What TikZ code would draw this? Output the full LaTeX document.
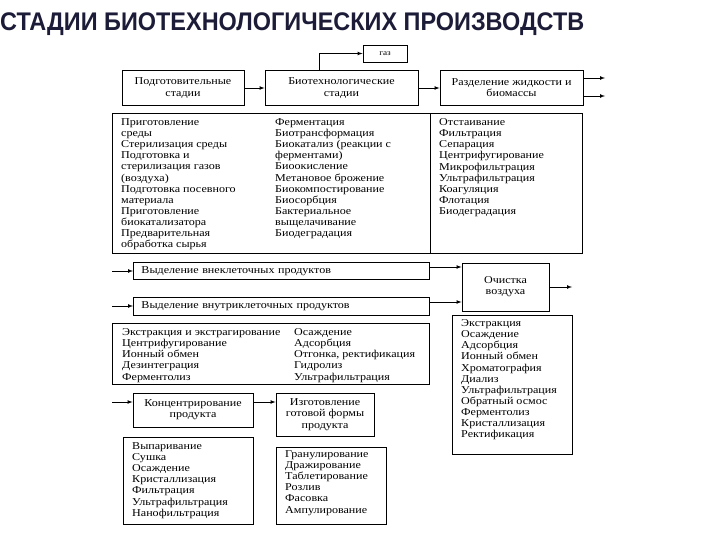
\documentclass[tikz,border=0pt]{standalone}
\usepackage{fontspec}
\setmainfont{Liberation Serif}[FakeStretch=1.15]
\newfontfamily\titlefont{Liberation Sans}[FakeStretch=0.92]
\usepackage{tikz}
\usetikzlibrary{positioning}
\definecolor{titlecol}{HTML}{1C1C38}

\begin{document}
\begin{tikzpicture}[x=1pt, y=-1pt,
  box/.style={draw, line width=0.9pt, align=center, inner sep=0pt, font=\fontsize{10.5}{11.2}\selectfont},
  listbox/.style={draw, line width=0.9pt, inner sep=0pt},
  list/.style={align=left, inner sep=0pt, anchor=north west, font=\fontsize{10.5}{11.1}\selectfont},
  arrow/.style={-latex, line width=0.7pt}]

\useasboundingbox (0,0) rectangle (720,540);

\node[anchor=base west, inner sep=0pt, text=titlecol, font=\titlefont\bfseries\fontsize{25.5}{26}\selectfont] (title) at (0,31) {СТАДИИ БИОТЕХНОЛОГИЧЕСКИХ ПРОИЗВОДСТВ};

% Основные стадии
\node[box, minimum width=122pt, minimum height=35pt] (prep) at (183,88)   {Подготовительные\\стадии};
\node[box, minimum width=153pt, minimum height=35pt] (bio)  at (341.5,88) {Биотехнологические\\стадии};
\node[box, minimum width=143pt, minimum height=35pt] (sep)  at (511.5,88) {Разделение жидкости и\\биомассы};
\node[box, minimum width=44pt, minimum height=17pt, font=\fontsize{8}{9}\selectfont] (gas) at (385,53.5) {газ};

\draw[arrow] (prep.east) -- (bio.west);
\draw[arrow] (bio.east) -- (sep.west);
\draw[arrow] ([xshift=-22.5pt]bio.north) |- (gas.west);
\coordinate (sepout1) at (605,78);
\coordinate (sepout2) at (605,96);
\draw[arrow] (sep.east |- sepout1) -- (sepout1);
\draw[arrow] (sep.east |- sepout2) -- (sepout2);

% Перечни методов
\node[listbox, minimum width=318pt, minimum height=140pt, anchor=north west] (methods) at (112,113) {};
\node[listbox, minimum width=152pt, minimum height=140pt, anchor=north west] (sepmethods) at (430,113) {};

\node[list] (preplist) at (121,118.5) {Приготовление\\среды\\Стерилизация среды\\Подготовка и\\стерилизация газов\\(воздуха)\\Подготовка посевного\\материала\\Приготовление\\биокатализатора\\Предварительная\\обработка сырья};
\node[list] (biolist) at (275,118.5) {Ферментация\\Биотрансформация\\Биокатализ (реакции с\\ферментами)\\Биоокисление\\Метановое брожение\\Биокомпостирование\\Биосорбция\\Бактериальное\\выщелачивание\\Биодеградация};
\node[list] (seplist) at (439,118.5) {Отстаивание\\Фильтрация\\Сепарация\\Центрифугирование\\Микрофильтрация\\Ультрафильтрация\\Коагуляция\\Флотация\\Биодеградация};

% Выделение продуктов
\node[box, minimum width=296pt, minimum height=17pt, anchor=west, text width=280pt, align=left] (extra) at (133,271) {Выделение внеклеточных продуктов};
\node[box, minimum width=296pt, minimum height=18pt, anchor=west, text width=280pt, align=left] (intra) at (133,306) {Выделение внутриклеточных продуктов};
\node[box, minimum width=87pt, minimum height=48pt] (air) at (505.5,287) {Очистка\\воздуха};

\coordinate (extrain) at (112,271);
\coordinate (intrain) at (112,306);
\coordinate (airout) at (572,287);
\draw[arrow] (extrain) -- (extra.west);
\draw[arrow] (intrain) -- (intra.west);
\draw[arrow] ([yshift=4pt]extra.east) -- ([yshift=4pt]extra.east -| air.west);
\draw[arrow] ([yshift=4pt]intra.east) -- ([yshift=4pt]intra.east -| air.west);
\draw[arrow] (air.east) -- (airout);

\node[listbox, minimum width=317pt, minimum height=61pt, anchor=north west] (isol) at (112,323) {};
\node[list] (isollist1) at (122,328.5) {Экстракция и экстрагирование\\Центрифугирование\\Ионный обмен\\Дезинтеграция\\Ферментолиз};
\node[list] (isollist2) at (294,328.5) {Осаждение\\Адсорбция\\Отгонка, ректификация\\Гидролиз\\Ультрафильтрация};

\node[listbox, minimum width=120pt, minimum height=139pt, anchor=north west] (purif) at (452,315) {};
\node[list] (puriflist) at (461,319.5) {Экстракция\\Осаждение\\Адсорбция\\Ионный обмен\\Хроматография\\Диализ\\Ультрафильтрация\\Обратный осмос\\Ферментолиз\\Кристаллизация\\Ректификация};

% Концентрирование и готовая форма
\node[box, minimum width=120pt, minimum height=34pt] (conc) at (193,410) {Концентрирование\\продукта};
\node[box, minimum width=98pt, minimum height=43pt] (form) at (325,414.5) {Изготовление\\готовой формы\\продукта};

\coordinate (concin) at (112,402);
\draw[arrow] (concin) -- (concin -| conc.west);
\draw[arrow] ([yshift=8pt]conc.east) -- ([yshift=8pt]conc.east -| form.west);

\node[listbox, minimum width=130pt, minimum height=87pt, anchor=north west] (conclist) at (123,437) {};
\node[list] (concitems) at (132,442.5) {Выпаривание\\Сушка\\Осаждение\\Кристаллизация\\Фильтрация\\Ультрафильтрация\\Нанофильтрация};

\node[listbox, minimum width=110pt, minimum height=77pt, anchor=north west] (formlist) at (276,447) {};
\node[list] (formitems) at (285,450.5) {Гранулирование\\Дражирование\\Таблетирование\\Розлив\\Фасовка\\Ампулирование};

\end{tikzpicture}
\end{document}
